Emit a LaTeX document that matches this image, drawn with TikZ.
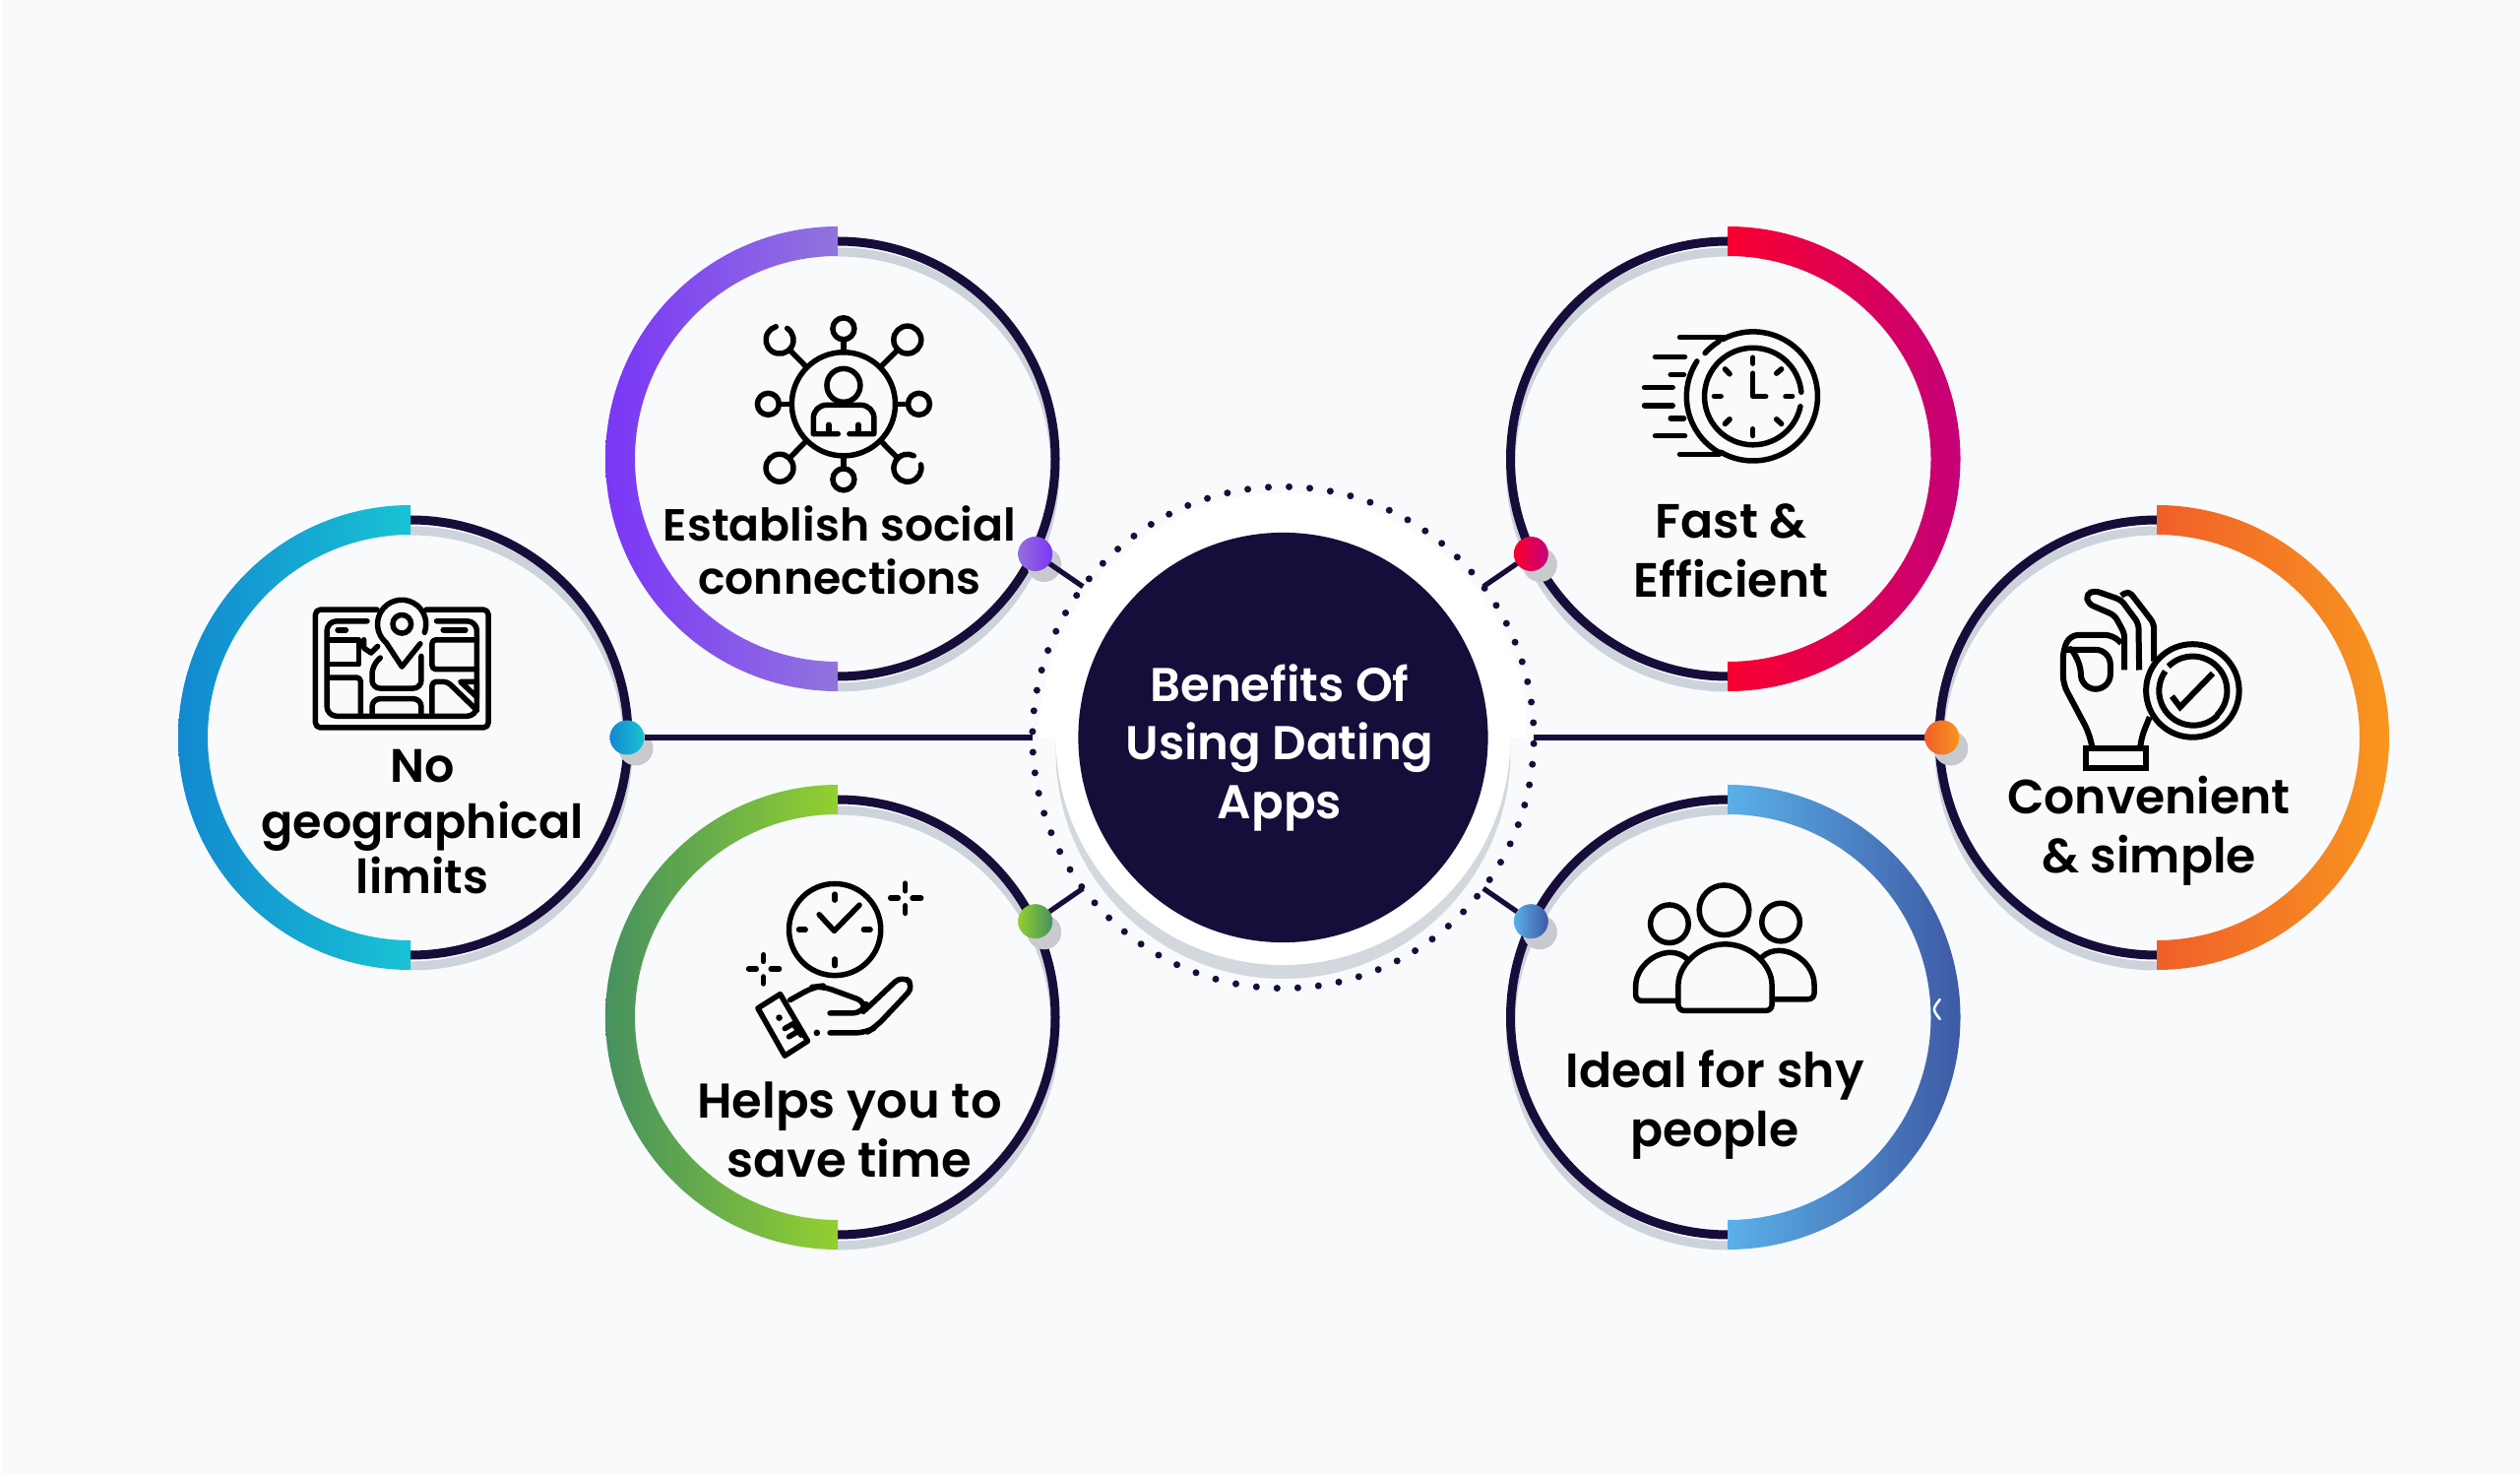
\documentclass[tikz,border=0pt]{standalone}
\usepackage{fontspec}
\setmainfont{Poppins}[BoldFont={Poppins SemiBold}]
\usepackage{xcolor}
\usepackage{tikz}
\usetikzlibrary{shadows}

\definecolor{pagebg}{HTML}{F8FAFC}
\definecolor{hubdark}{HTML}{170D3A}
\definecolor{ringshade}{HTML}{CDD3DB}
\definecolor{pinshade}{HTML}{C9CACF}
\definecolor{hubshade}{HTML}{D3D8DE}

\begin{document}
\begin{tikzpicture}[
  x=0.01cm, y=0.01cm,
  darkring/.style={draw=hubdark, line width=0.09cm},
  shadering/.style={draw=ringshade, line width=0.09cm},
  pin/.style={circle, minimum size=0.35cm, inner sep=0pt, outer sep=0pt,
              general shadow={shadow xshift=0.09cm, shadow yshift=-0.11cm, fill=pinshade}},
  link/.style={draw=hubdark, line width=0.052cm},
  ringdots/.style={circle, minimum size=5.09cm, inner sep=0pt, outer sep=0pt, draw=hubdark,
                   line width=0.07cm, line cap=round, dash pattern=on 0pt off 0.2104cm, dash phase=0.06cm},
  ringlabel/.style={align=center, anchor=base, text=black,
                    font=\fontsize{13.9}{17}\selectfont\bfseries},
  hublabel/.style={align=center, anchor=base, text=white,
                   font=\fontsize{13.7}{16.9}\selectfont\bfseries},
  zoomed/.style={x=0.003333cm, y=-0.003333cm},
  iconline/.style={draw=black, line width=0.055cm, line cap=round, line join=round}
]
\useasboundingbox (0,0) rectangle (2560,1499);
\fill[white] (0,0) rectangle (2560,1499);
\fill[pagebg] (3,2) rectangle (2560,1499);

% centre disc
\fill[white] (1055.5,750) arc (180:0:248) -- cycle;
\fill[hubshade] (1303.5,736) circle (231);
\fill[white] (1303.5,750) circle (231);
\node[circle, fill=hubdark, minimum size=4.16cm, inner sep=0pt] (hub) at (1303.5,750) {};
\node[ringdots] (ring) at (hub) {};
\node[hublabel] (hubtext) at (1300,667.6) {Benefits Of\\Using Dating\\Apps};

% rings, left side
\draw[shadering] (417,960) arc (90:-90:221);
\draw[darkring] (417,971) arc (90:-90:221);
\shade[left color={rgb,255:red,18;green,137;blue,208}, right color={rgb,255:red,24;green,195;blue,211}]
  (417,986) arc (90:270:236) -- (417,544) arc (270:90:206) -- cycle;
\draw[shadering] (851,1243) arc (90:-90:221);
\draw[darkring] (851,1254) arc (90:-90:221);
\shade[left color={rgb,255:red,122;green,54;blue,246}, right color={rgb,255:red,145;green,116;blue,222}]
  (851,1269) arc (90:270:236) -- (851,827) arc (270:90:206) -- cycle;
\draw[shadering] (851,676) arc (90:-90:221);
\draw[darkring] (851,687) arc (90:-90:221);
\shade[left color={rgb,255:red,70;green,145;blue,95}, right color={rgb,255:red,147;green,208;blue,48}]
  (851,702) arc (90:270:236) -- (851,260) arc (270:90:206) -- cycle;

% rings, right side
\draw[shadering] (1755.5,1243) arc (90:270:221);
\draw[darkring] (1755.5,1254) arc (90:270:221);
\shade[left color={rgb,255:red,248;green,0;blue,47}, right color={rgb,255:red,197;green,0;blue,120}]
  (1755.5,1269) arc (90:-90:236) -- (1755.5,827) arc (-90:90:206) -- cycle;
\draw[shadering] (1755.5,676) arc (90:270:221);
\draw[darkring] (1755.5,687) arc (90:270:221);
\shade[left color={rgb,255:red,90;green,176;blue,232}, right color={rgb,255:red,62;green,90;blue,164}]
  (1755.5,702) arc (90:-90:236) -- (1755.5,260) arc (-90:90:206) -- cycle;
\draw[shadering] (2191,960) arc (90:270:221);
\draw[darkring] (2191,971) arc (90:270:221);
\shade[left color={rgb,255:red,240;green,95;blue,42}, right color={rgb,255:red,248;green,150;blue,30}]
  (2191,986) arc (90:-90:236) -- (2191,544) arc (-90:90:206) -- cycle;
\draw[white, line width=0.025cm, line cap=round] (1970.7,484) .. controls (1963,474) .. (1970.7,464);

% pins and links
\node[pin, left color={rgb,255:red,18;green,137;blue,208}, right color={rgb,255:red,24;green,195;blue,211}] (dotGeo) at (637,750) {};
\node[pin, left color={rgb,255:red,148;green,112;blue,220}, right color={rgb,255:red,122;green,54;blue,246}] (dotSocial) at (1051.7,936.5) {};
\node[pin, left color={rgb,255:red,147;green,208;blue,48}, right color={rgb,255:red,70;green,145;blue,95}] (dotTime) at (1051.7,563.3) {};
\node[pin, left color={rgb,255:red,248;green,0;blue,47}, right color={rgb,255:red,197;green,0;blue,120}] (dotFast) at (1555.3,936.5) {};
\node[pin, left color={rgb,255:red,90;green,176;blue,232}, right color={rgb,255:red,62;green,90;blue,164}] (dotShy) at (1555.3,563.3) {};
\node[pin, left color={rgb,255:red,240;green,95;blue,42}, right color={rgb,255:red,248;green,150;blue,30}] (dotEasy) at (1972.8,750) {};

\draw[link] (dotGeo) -- (ring.180);
\draw[link] (dotSocial) -- (ring.143);
\draw[link] (dotTime) -- (ring.217);
\draw[link] (dotFast) -- (ring.37);
\draw[link] (dotShy) -- (ring.323);
\draw[link] (dotEasy) -- (ring.0);

% labels
\node[ringlabel, font=\fontsize{13.55}{16.2}\selectfont\bfseries] (lblGeo) at (429,591) {No\\geographical\\limits};
\node[ringlabel, font=\fontsize{13}{15.5}\selectfont\bfseries] (lblSocial) at (853,895.3) {Establish social\\connections};
\node[ringlabel, font=\fontsize{14.1}{17}\selectfont\bfseries] (lblTime) at (863,303.5) {Helps you to\\save time};
\node[ringlabel] (lblFast) at (1758.5,892.5) {Fast \&\\Efficient};
\node[ringlabel] (lblShy) at (1742,335) {Ideal for shy\\people};
\node[ringlabel] (lblEasy) at (2183,613) {Convenient\\\& simple};

% map icon
\begin{scope}[shift={(170,999)}, zoomed]
  \draw[iconline, rounded corners=0.05cm] (640,358) -- (452,358) -- (452,718) -- (980,718) -- (980,358) -- (790,358);
  \draw[iconline, rounded corners=0.1cm] (610,393) -- (487,393) -- (487,683) -- (945,683) -- (945,393) -- (822,393);
  \draw[iconline] (772,462) -- (716,532) -- (668,459) arc (130:380:74);
  \draw[iconline] (716,402) circle (28);
  \draw[iconline] (520,420) -- (545,420);
  \draw[iconline] (842,420) -- (910,420);
  \draw[iconline] (490,450) -- (585,450) -- (585,525) -- (490,525);
  \draw[iconline] (600,450) -- (600,475) -- (622,490) -- (642,470);
  \draw[iconline, rounded corners=0.04cm] (490,565) -- (590,565) -- (590,680);
  \draw[iconline, rounded corners=0.08cm] (650,505) -- (625,530) -- (625,598) -- (775,598) -- (775,500);
  \draw[iconline, rounded corners=0.08cm] (625,680) -- (625,630) -- (775,630) -- (775,680);
  \draw[iconline, rounded corners=0.04cm] (945,450) -- (808,450) -- (808,540) -- (945,540);
  \draw[iconline, rounded corners=0.04cm] (808,680) -- (808,578) -- (855,578) -- (945,665);
  \draw[iconline] (895,578) -- (945,578) -- (945,625) -- cycle;
\end{scope}

% network icon
\begin{scope}[shift={(600,1289)}, zoomed]
  \draw[iconline] (772,602) circle (158);
  \draw[iconline] (772,372) circle (33);
  \draw[iconline] (772,832) circle (33);
  \draw[iconline] (542,602) circle (33);
  \draw[iconline] (1002,602) circle (33);
  \draw[iconline] (772,405) -- (772,444);
  \draw[iconline] (772,760) -- (772,799);
  \draw[iconline] (575,602) -- (614,602);
  \draw[iconline] (930,602) -- (969,602);
  \draw[iconline] (967,406) circle (42);
  \draw[iconline] (577,797) circle (42);
  \draw[iconline] (600,371) arc (-57:254:42);
  \draw[iconline] (1008,787) arc (-14:297:42);
  \draw[iconline] (938,436) -- (889,485);
  \draw[iconline] (607,767) -- (655,718);
  \draw[iconline] (607,436) -- (655,485);
  \draw[iconline] (937,767) -- (889,718);
  \draw[iconline] (772,545) circle (51);
  \draw[iconline] (755,693) -- (680,693) -- (680,645) arc (180:270:40) -- (825,605) arc (270:360:40) -- (865,693) -- (790,693);
  \draw[iconline] (727,665) -- (727,690);
  \draw[iconline] (817,665) -- (817,690);
\end{scope}

% time icon
\begin{scope}[shift={(720,719)}, zoomed]
  \draw[iconline] (385,493) circle (140);
  \draw[iconline] (385,385) -- (385,403);
  \draw[iconline] (385,583) -- (385,603);
  \draw[iconline] (275,493) -- (295,493);
  \draw[iconline] (473,493) -- (493,493);
  \draw[iconline] (337,447) -- (383,497) -- (460,418);
  \draw[iconline] (600,352) -- (600,375);
  \draw[iconline] (600,420) -- (600,443);
  \draw[iconline] (555,397) -- (578,397);
  \draw[iconline] (622,397) -- (648,397);
  \draw[iconline] (167,570) -- (167,590);
  \draw[iconline] (167,637) -- (167,658);
  \draw[iconline] (122,613) -- (145,613);
  \draw[iconline] (190,613) -- (215,613);
  \draw[iconline] (150,733) -- (218,690) -- (302,833) -- (232,878) -- cycle;
  \fill[black] (215,762) circle (10);
  \draw[iconline] (232,795) -- (258,780) -- (282,815);
  \draw[iconline] (245,820) -- (270,805);
  \draw[iconline, rounded corners=0.1cm] (370,748) -- (470,748) -- (482,715) -- (345,665) -- (320,668) -- (248,708);
  \draw[iconline, rounded corners=0.1cm] (478,738) -- (590,632) -- (628,665) -- (510,790) -- (480,808) -- (370,808);
  \fill[black] (330,808) circle (10);
\end{scope}

% clock icon
\begin{scope}[shift={(1600,1219)}, zoomed]
  \draw[iconline] (451,194) arc (-118:120:197);
  \draw[iconline] (439,539) arc (120:213:197);
  \draw[iconline] (397,236) arc (222:238:197);
  \draw[iconline] (320,188) -- (460,188);
  \draw[iconline] (320,545) -- (440,545);
  \draw[iconline] (688,399) arc (12:355:148);
  \draw[iconline] (543,250) -- (543,268);
  \draw[iconline] (543,468) -- (543,488);
  \draw[iconline] (425,368) -- (445,368);
  \draw[iconline] (643,368) -- (663,368);
  \draw[iconline] (458,285) -- (472,300);
  \draw[iconline] (615,298) -- (630,285);
  \draw[iconline] (458,452) -- (472,438);
  \draw[iconline] (615,438) -- (630,452);
  \draw[iconline] (543,298) -- (543,368) -- (582,368);
  \draw[iconline] (245,248) -- (335,248);
  \draw[iconline] (292,302) -- (332,302);
  \draw[iconline] (212,341) -- (298,341);
  \draw[iconline] (212,396) -- (298,396);
  \draw[iconline] (292,435) -- (332,435);
  \draw[iconline] (245,489) -- (335,489);
\end{scope}

% people icon
\begin{scope}[shift={(1640,629)}, zoomed]
  \draw[iconline] (335,163) circle (76);
  \draw[iconline] (168,205) circle (58);
  \draw[iconline] (508,200) circle (58);
  \draw[iconline, rounded corners=0.06cm] (195,410) arc (180:360:143) -- (481,470) -- (195,470) -- cycle;
  \draw[iconline, rounded corners=0.06cm] (190,440) -- (65,440) -- (65,395);
  \draw[iconline] (65,395) .. controls (65,320) and (165,260) .. (222,312);
  \draw[iconline, rounded corners=0.06cm] (485,435) -- (610,435) -- (610,390);
  \draw[iconline] (610,390) .. controls (610,315) and (510,255) .. (452,305);
\end{scope}

% hand icon
\begin{scope}[shift={(2040,929)}, zoomed, iconline/.append style={line width=0.06cm, line cap=butt}]
  \draw[iconline, rounded corners=0.05cm] (355,332) -- (355,220) -- (325,165) -- (245,130) -- (238,100) -- (265,90) -- (345,118) -- (398,190) -- (400,332);
  \draw[iconline, rounded corners=0.05cm] (345,105) -- (368,90) -- (445,190) -- (445,305);
  \draw[iconline, rounded corners=0.08cm] (345,250) -- (320,225) -- (190,225) -- (168,270) -- (168,375) -- (245,520) -- (258,572);
  \draw[iconline, rounded corners=0.15cm] (175,270) -- (312,270) -- (312,390) -- (222,390) -- (222,300) -- (195,272);
  \draw[iconline, rounded corners=0.05cm] (402,572) -- (410,530) -- (432,475);
  \draw[iconline, line join=miter] (238,572) rectangle (420,630);
  \draw[iconline] (563,395) circle (142);
  \draw[iconline] (489,321) arc (225:405:105);
  \draw[iconline] (640,470) arc (45:215:105);
  \draw[iconline, line join=miter] (500,412) -- (525,445) -- (625,342);
\end{scope}
\end{tikzpicture}
\end{document}
